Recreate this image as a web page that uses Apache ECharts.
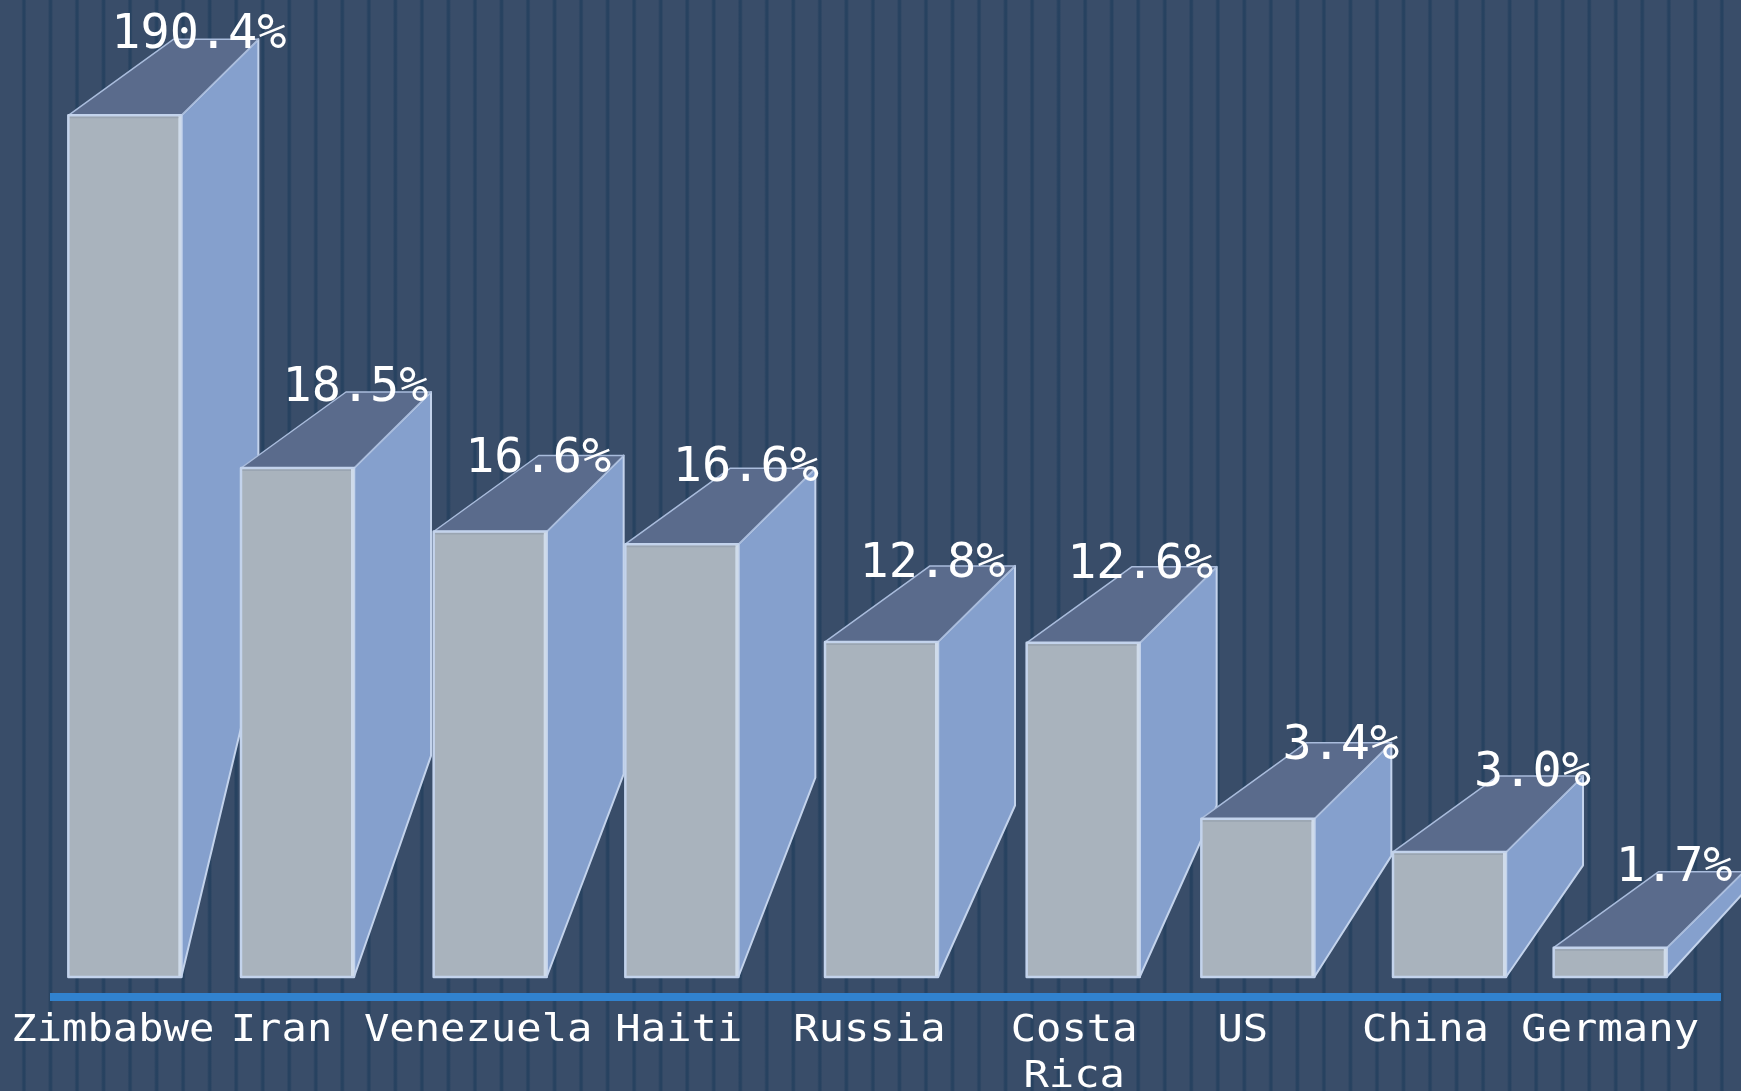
<!DOCTYPE html>
<html>
<head>
<meta charset="utf-8">
<title>Inflation by country</title>
<style>
    html, body { margin: 0; height: 100%; overflow: hidden; }
    /* striped backdrop behind the transparent chart */
    body {
        background-color: #394d69;
        background-image: repeating-linear-gradient(90deg,
            transparent 0, transparent 21.3px,
            #274260 23.2px, #274260 24.8px,
            transparent 26.53px);
    }
    #chart { width: 1741px; height: 1091px; }
</style>
<script src="https://cdn.jsdelivr.net/npm/echarts@6/dist/echarts.min.js"></script>
</head>
<body>
<div id="chart"></div>
<script>
const categories = ['Zimbabwe', 'Iran', 'Venezuela', 'Haiti', 'Russia', 'Costa\nRica', 'US', 'China', 'Germany'];
const inflation = [190.4, 18.5, 16.6, 16.6, 12.8, 12.6, 3.4, 3.0, 1.7];
// the picture's bars do not follow the printed figures, so this is the bar height
// on a hidden 0-100 scale
const drawnHeight = [88.2, 52.1, 45.6, 44.3, 34.3, 34.2, 16.2, 12.8, 3.0];

// hand placed offsets of the original slide, px from the middle of each band
const barNudge = [-19, -32, -25, -19, -5, 11, 0, 6, -19];
const valueNudge = [[56, -80], [27, -80], [24, -72], [46, -76], [47, -77], [69, -77], [84, -72], [90, -79], [46, -79]];
const nameNudge = [-30, -47, -36, -21, -16, 3, -14, -17, -18];

const frontWidth = 113;
const depthY = 76;
const backLeftX = 105;
const backRightX = 77;
const backShrink = 0.715;

function renderBar(params, api) {
    const i = api.value(0);
    const top = api.coord([i, api.value(1)]);
    const base = api.coord([i, 0]);
    const left = top[0] + barNudge[i] - frontWidth / 2 + 1;
    const right = left + frontWidth;
    const backTop = top[1] - depthY;
    const backBottom = backTop + (base[1] - top[1]) * backShrink;
    const edge = { stroke: '#c3d3ec', lineWidth: 2.5, lineJoin: 'round' };
    return {
        type: 'group',
        children: [
            {
                type: 'polygon',
                shape: { points: [[right, base[1]], [right, top[1]], [right + backRightX, backTop], [right + backRightX, backBottom]] },
                style: { fill: '#85a0cd', ...edge, lineWidth: 2 }
            },
            {
                type: 'polygon',
                shape: { points: [[left, top[1]], [left + backLeftX, backTop], [right + backRightX, backTop], [right, top[1]]] },
                style: { fill: '#5a6b8c', stroke: '#a9bcdc', lineWidth: 1.5, lineJoin: 'round' }
            },
            {
                type: 'rect',
                shape: { x: left, y: top[1], width: frontWidth, height: base[1] - top[1] },
                style: { fill: '#a9b3bd', ...edge }
            },
            // bevel on the front face: pale right side, dark line under the top edge
            {
                type: 'rect',
                shape: { x: right - 3, y: top[1] + 1, width: 3, height: base[1] - top[1] - 2 },
                style: { fill: '#cfdbea' }
            },
            {
                type: 'rect',
                shape: { x: left + 1.5, y: top[1] + 1.5, width: frontWidth - 4.5, height: 1.5 },
                style: { fill: '#9aa5b2' }
            },
            {
                type: 'text',
                z2: 10,
                x: top[0] + valueNudge[i][0],
                y: top[1] + valueNudge[i][1],
                style: {
                    text: inflation[i].toFixed(1) + '%',
                    font: '48.5px "DejaVu Sans Mono"',
                    fill: '#ffffff',
                    align: 'center',
                    verticalAlign: 'middle'
                }
            },
            {
                type: 'text',
                z2: 10,
                x: top[0] + nameNudge[i],
                y: base[1] + 31,
                scaleX: 1.14,
                style: {
                    text: categories[i],
                    font: '37px "DejaVu Sans Mono"',
                    lineHeight: 46,
                    fill: '#ffffff',
                    align: 'center',
                    verticalAlign: 'top'
                }
            }
        ]
    };
}

const chart = echarts.init(document.getElementById('chart'));
chart.setOption({
    animation: false,
    grid: { left: 50, right: 20, top: 0, bottom: 114 },
    xAxis: {
        type: 'category',
        data: categories,
        offset: 20,
        axisLine: { onZero: false, lineStyle: { color: '#3182ce', width: 8, cap: 'butt' } },
        axisTick: { show: false },
        axisLabel: { show: false }
    },
    yAxis: { type: 'value', min: 0, max: 100, show: false },
    series: [
        {
            type: 'custom',
            renderItem: renderBar,
            encode: { x: 0, y: 1 },
            data: drawnHeight.map((h, i) => [i, h])
        }
    ]
});
</script>
</body>
</html>
